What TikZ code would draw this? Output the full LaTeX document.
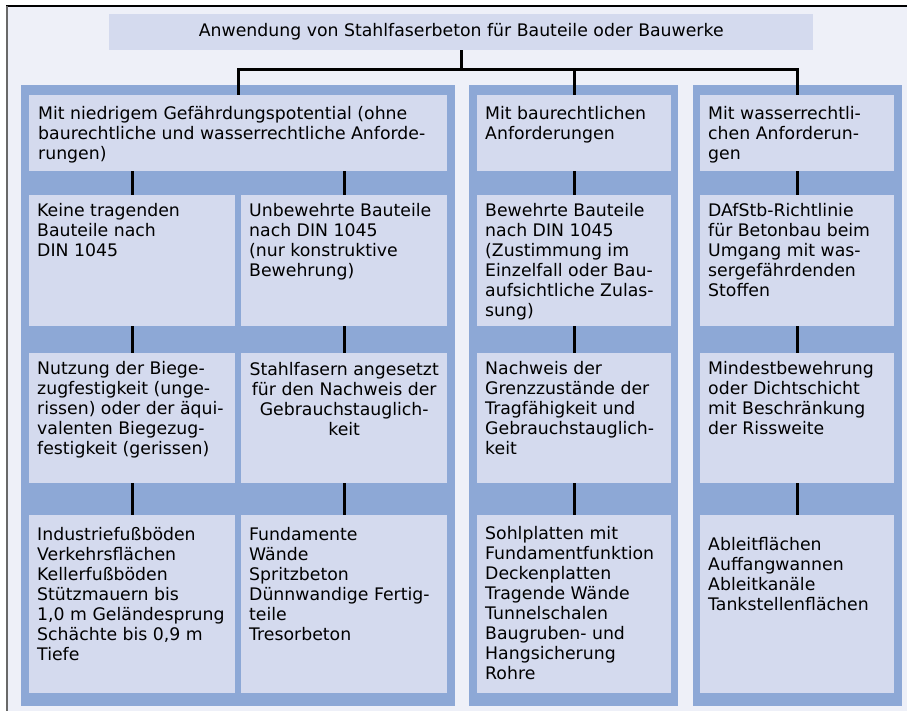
\documentclass[tikz,border=0pt]{standalone}
\usepackage{fontspec}
\setmainfont{DejaVu Sans}
\usetikzlibrary{positioning}
\definecolor{pagebg}{RGB}{238,240,248}
\definecolor{grpblue}{RGB}{141,168,214}
\definecolor{cellblue}{RGB}{212,218,238}
\definecolor{framegray}{RGB}{105,105,105}

\begin{document}
\begin{tikzpicture}[x=1pt,y=-1pt,
  grp/.style={fill=grpblue,inner sep=0pt,anchor=north west,minimum height=621pt},
  cell/.style={fill=cellblue,inner sep=0pt,anchor=north west},
  txt/.style={font=\fontsize{17.3}{20}\selectfont,align=left,inner sep=0pt,text=black},
  conn/.style={line width=2.7pt}
]
  \useasboundingbox (0,0) rectangle (907,711);
  % page
  \fill[pagebg] (7,6) rectangle (907,711);
  \draw[line width=1.4pt] (6.3,6) -- (907,6);
  \draw[framegray,line width=1.4pt] (7,6) -- (7,711);

  % title
  \node[cell,minimum width=704pt,minimum height=36pt] (title) at (109,14) {};
  \node[txt] at (title.center) {Anwendung von Stahlfaserbeton für Bauteile oder Bauwerke};

  % column groups
  \node[grp,minimum width=434pt] (g1) at (21,85) {};
  \node[grp,minimum width=209pt] (g2) at (469,85) {};
  \node[grp,minimum width=209pt] (g3) at (693,85) {};

  % headers
  \node[cell,minimum width=418pt,minimum height=76pt] (h1) at (29,95) {};
  \node[cell,minimum width=194pt,minimum height=76pt] (h2) at (477,95) {};
  \node[cell,minimum width=194pt,minimum height=76pt] (h3) at (700,95) {};
  \node[txt,below right=11pt and 9pt of h1.north west,anchor=north west]
    {Mit niedrigem Gefährdungspotential (ohne\\baurechtliche und wasserrechtliche Anforde-\\rungen)};
  \node[txt,below right=11pt and 8pt of h2.north west,anchor=north west]
    {Mit baurechtlichen\\Anforderungen};
  \node[txt,below right=11pt and 8pt of h3.north west,anchor=north west]
    {Mit wasserrechtli-\\chen Anforderun-\\gen};

  % row 2
  \node[cell,minimum width=206pt,minimum height=131pt] (a1) at (29,195) {};
  \node[cell,minimum width=206pt,minimum height=131pt] (b1) at (241,195) {};
  \node[cell,minimum width=194pt,minimum height=131pt] (c1) at (477,195) {};
  \node[cell,minimum width=194pt,minimum height=131pt] (d1) at (700,195) {};
  \node[txt,below right=8pt and 8pt of a1.north west,anchor=north west]
    {Keine tragenden\\Bauteile nach\\DIN 1045};
  \node[txt,below right=8pt and 8pt of b1.north west,anchor=north west]
    {Unbewehrte Bauteile\\nach DIN 1045\\(nur konstruktive\\Bewehrung)};
  \node[txt,below right=8pt and 8pt of c1.north west,anchor=north west]
    {Bewehrte Bauteile\\nach DIN 1045\\(Zustimmung im\\Einzelfall oder Bau-\\aufsichtliche Zulas-\\sung)};
  \node[txt,below right=8pt and 8pt of d1.north west,anchor=north west]
    {DAfStb-Richtlinie\\für Betonbau beim\\Umgang mit was-\\sergefährdenden\\Stoffen};

  % row 3
  \node[cell,minimum width=206pt,minimum height=130pt] (a2) at (29,353) {};
  \node[cell,minimum width=206pt,minimum height=130pt] (b2) at (241,353) {};
  \node[cell,minimum width=194pt,minimum height=130pt] (c2) at (477,353) {};
  \node[cell,minimum width=194pt,minimum height=130pt] (d2) at (700,353) {};
  \node[txt,below right=8pt and 8pt of a2.north west,anchor=north west]
    {Nutzung der Biege-\\zugfestigkeit (unge-\\rissen) oder der äqui-\\valenten Biegezug-\\festigkeit (gerissen)};
  \node[txt,align=center,below=9pt of b2.north,anchor=north]
    {Stahlfasern angesetzt\\für den Nachweis der\\Gebrauchstauglich-\\keit};
  \node[txt,below right=8pt and 8pt of c2.north west,anchor=north west]
    {Nachweis der\\Grenzzustände der\\Tragfähigkeit und\\Gebrauchstauglich-\\keit};
  \node[txt,below right=8pt and 8pt of d2.north west,anchor=north west]
    {Mindestbewehrung\\oder Dichtschicht\\mit Beschränkung\\der Rissweite};

  % row 4
  \node[cell,minimum width=206pt,minimum height=178pt] (a3) at (29,515) {};
  \node[cell,minimum width=206pt,minimum height=178pt] (b3) at (241,515) {};
  \node[cell,minimum width=194pt,minimum height=178pt] (c3) at (477,515) {};
  \node[cell,minimum width=194pt,minimum height=178pt] (d3) at (700,515) {};
  \node[txt,below right=12pt and 8pt of a3.north west,anchor=north west]
    {Industriefußböden\\Verkehrsflächen\\Kellerfußböden\\Stützmauern bis\\1,0 m Geländesprung\\Schächte bis 0,9 m\\Tiefe};
  \node[txt,below right=12pt and 8pt of b3.north west,anchor=north west]
    {Fundamente\\Wände\\Spritzbeton\\Dünnwandige Fertig-\\teile\\Tresorbeton};
  \node[txt,below right=11pt and 8pt of c3.north west,anchor=north west]
    {Sohlplatten mit\\Fundamentfunktion\\Deckenplatten\\Tragende Wände\\Tunnelschalen\\Baugruben- und\\Hangsicherung\\Rohre};
  \node[txt,below right=22pt and 8pt of d3.north west,anchor=north west]
    {Ableitflächen\\Auffangwannen\\Ableitkanäle\\Tankstellenflächen};

  % connectors
  \path (title.south) ++(0,19) coordinate (bus);
  \draw[conn] (title.south) -- (bus);
  \draw[conn] (h1.north) |- (bus) -| (h3.north);
  \draw[conn] (bus -| h2.north) -- (h2.north);
  \foreach \col in {a,b,c,d}{
    \draw[conn] (\col1.south) -- (\col2.north);
    \draw[conn] (\col2.south) -- (\col3.north);
  }
  \draw[conn] (a1.north |- h1.south) -- (a1.north);
  \draw[conn] (b1.north |- h1.south) -- (b1.north);
  \draw[conn] (h2.south) -- (c1.north);
  \draw[conn] (h3.south) -- (d1.north);
\end{tikzpicture}
\end{document}
